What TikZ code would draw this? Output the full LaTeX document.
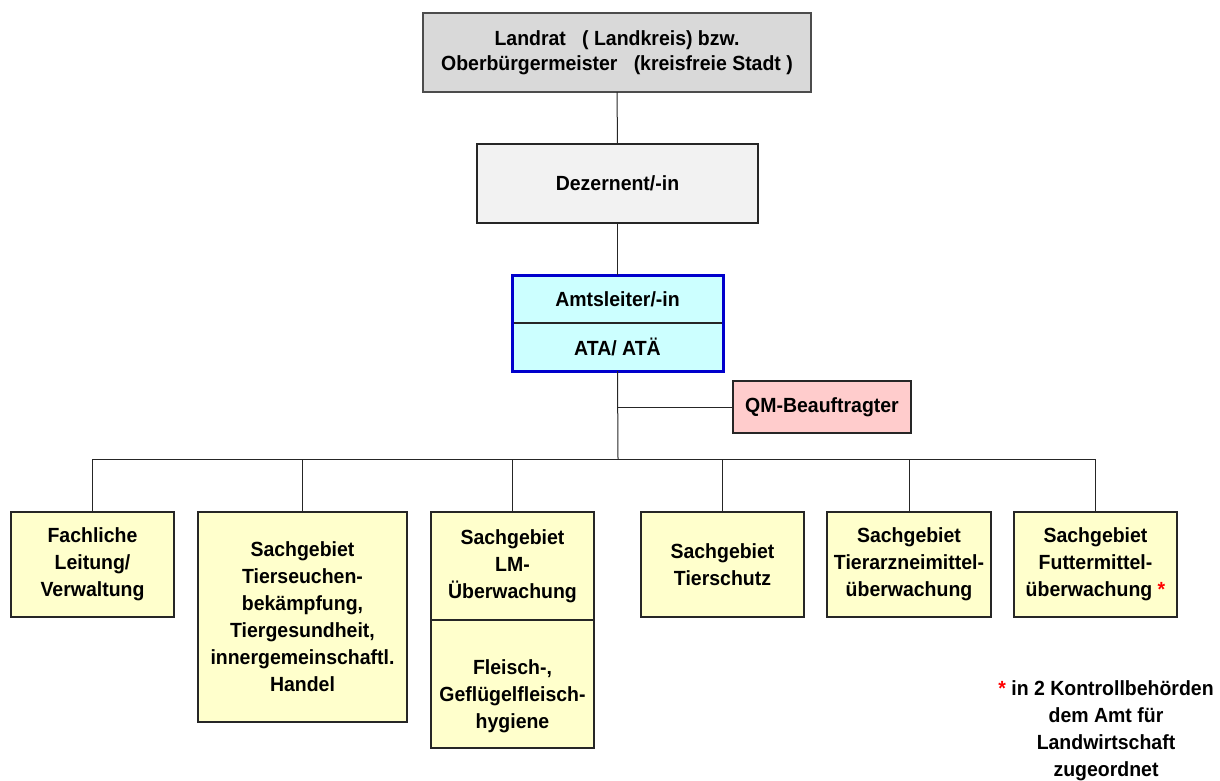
\documentclass[tikz,border=0pt]{standalone}
\usepackage{fontspec}
\setmainfont{Liberation Sans}[FakeStretch=0.95]
\definecolor{topgray}{HTML}{D9D9D9}
\definecolor{dezgray}{HTML}{F2F2F2}
\definecolor{amtcyan}{HTML}{CCFFFF}
\definecolor{qmpink}{HTML}{FFCCCC}
\definecolor{sgyellow}{HTML}{FFFFCC}
\definecolor{amtblue}{HTML}{0000CC}
\tikzset{
  orgbox/.style={draw=black!85, line width=1.2pt, rectangle, inner sep=0pt, outer sep=0pt,
    align=center, font=\fontsize{20.5}{27}\selectfont\bfseries},
  sgbox/.style={orgbox, fill=sgyellow, minimum width=163pt, minimum height=105pt},
  txt/.style={inner sep=0pt, align=center, font=\fontsize{20.5}{27}\selectfont\bfseries},
  conn/.style={draw=black!85, line width=1pt}
}
\begin{document}
\begin{tikzpicture}[x=1pt,y=-1pt]
\useasboundingbox (0,0) rectangle (1220,780);
% top levels
\node[orgbox, fill=topgray, draw=black!70, minimum width=388pt, minimum height=79pt,
      font=\fontsize{20.5}{24.5}\selectfont\bfseries] (top) at (617,52.5)
  {Landrat\ \ \ ( Landkreis) bzw.\\Oberbürgermeister\ \ \ (kreisfreie Stadt )};
\node[orgbox, fill=dezgray, minimum width=281pt, minimum height=79pt] (dez) at (617.5,183.5) {Dezernent/-in};
\node[orgbox, fill=amtcyan, minimum width=211pt, minimum height=48pt] (amt) at (617.5,299) {Amtsleiter/-in};
\node[orgbox, fill=amtcyan, minimum width=211pt, minimum height=48pt] (ata) at (617.5,347) {ATA/ ATÄ};
\draw[amtblue, line width=3pt] (amt.north west) rectangle (ata.south east);
\node[orgbox, fill=qmpink, minimum width=178pt, minimum height=52pt] (qm) at (822,407) {QM-Beauftragter};
% bottom row
\node[sgbox] (b1) at (92.5,564.5) {Fachliche\\Leitung/\\Verwaltung};
\node[sgbox, minimum width=209pt, minimum height=210pt] (b2) at (302.5,617)
  {Sachgebiet\\Tierseuchen-\\bekämpfung,\\Tiergesundheit,\\innergemeinschaftl.\\Handel};
\node[sgbox, minimum height=108pt] (b3) at (512.5,566) {Sachgebiet\\LM-\\Überwachung};
\node[sgbox, minimum height=128pt] (b3b) at (512.5,684) {};
\node[txt] (b3t) at (512.5,696) {Fleisch-,\\Geflügelfleisch-\\hygiene};
\node[sgbox] (b4) at (722.5,564.5) {Sachgebiet\\Tierschutz};
\node[sgbox, minimum width=164pt] (b5) at (909,564.5) {Sachgebiet\\Tierarzneimittel-\\überwachung};
\node[sgbox] (b6) at (1095.5,564.5) {Sachgebiet\\Futtermittel-\\überwachung {\color{red}*}};
% footnote
\node[txt] (note) at (1106,731) {{\color{red}*} in 2 Kontrollbehörden\\dem Amt für\\Landwirtschaft\\zugeordnet};
% connectors
\coordinate (bus) at (618,459);
\coordinate (qmj) at (618,407);
\draw[conn] (top.south) -- (dez.north);
\draw[conn] (dez.south) -- (amt.north);
\draw[conn] (ata.south) -- (bus);
\draw[conn] (qmj) -- (qm.west);
\draw[conn] (b1.north |- bus) -- (b6.north |- bus);
\foreach \b in {b1,b2,b3,b4,b5,b6}{
  \draw[conn] (\b.north |- bus) -- (\b.north);
}
\end{tikzpicture}
\end{document}
